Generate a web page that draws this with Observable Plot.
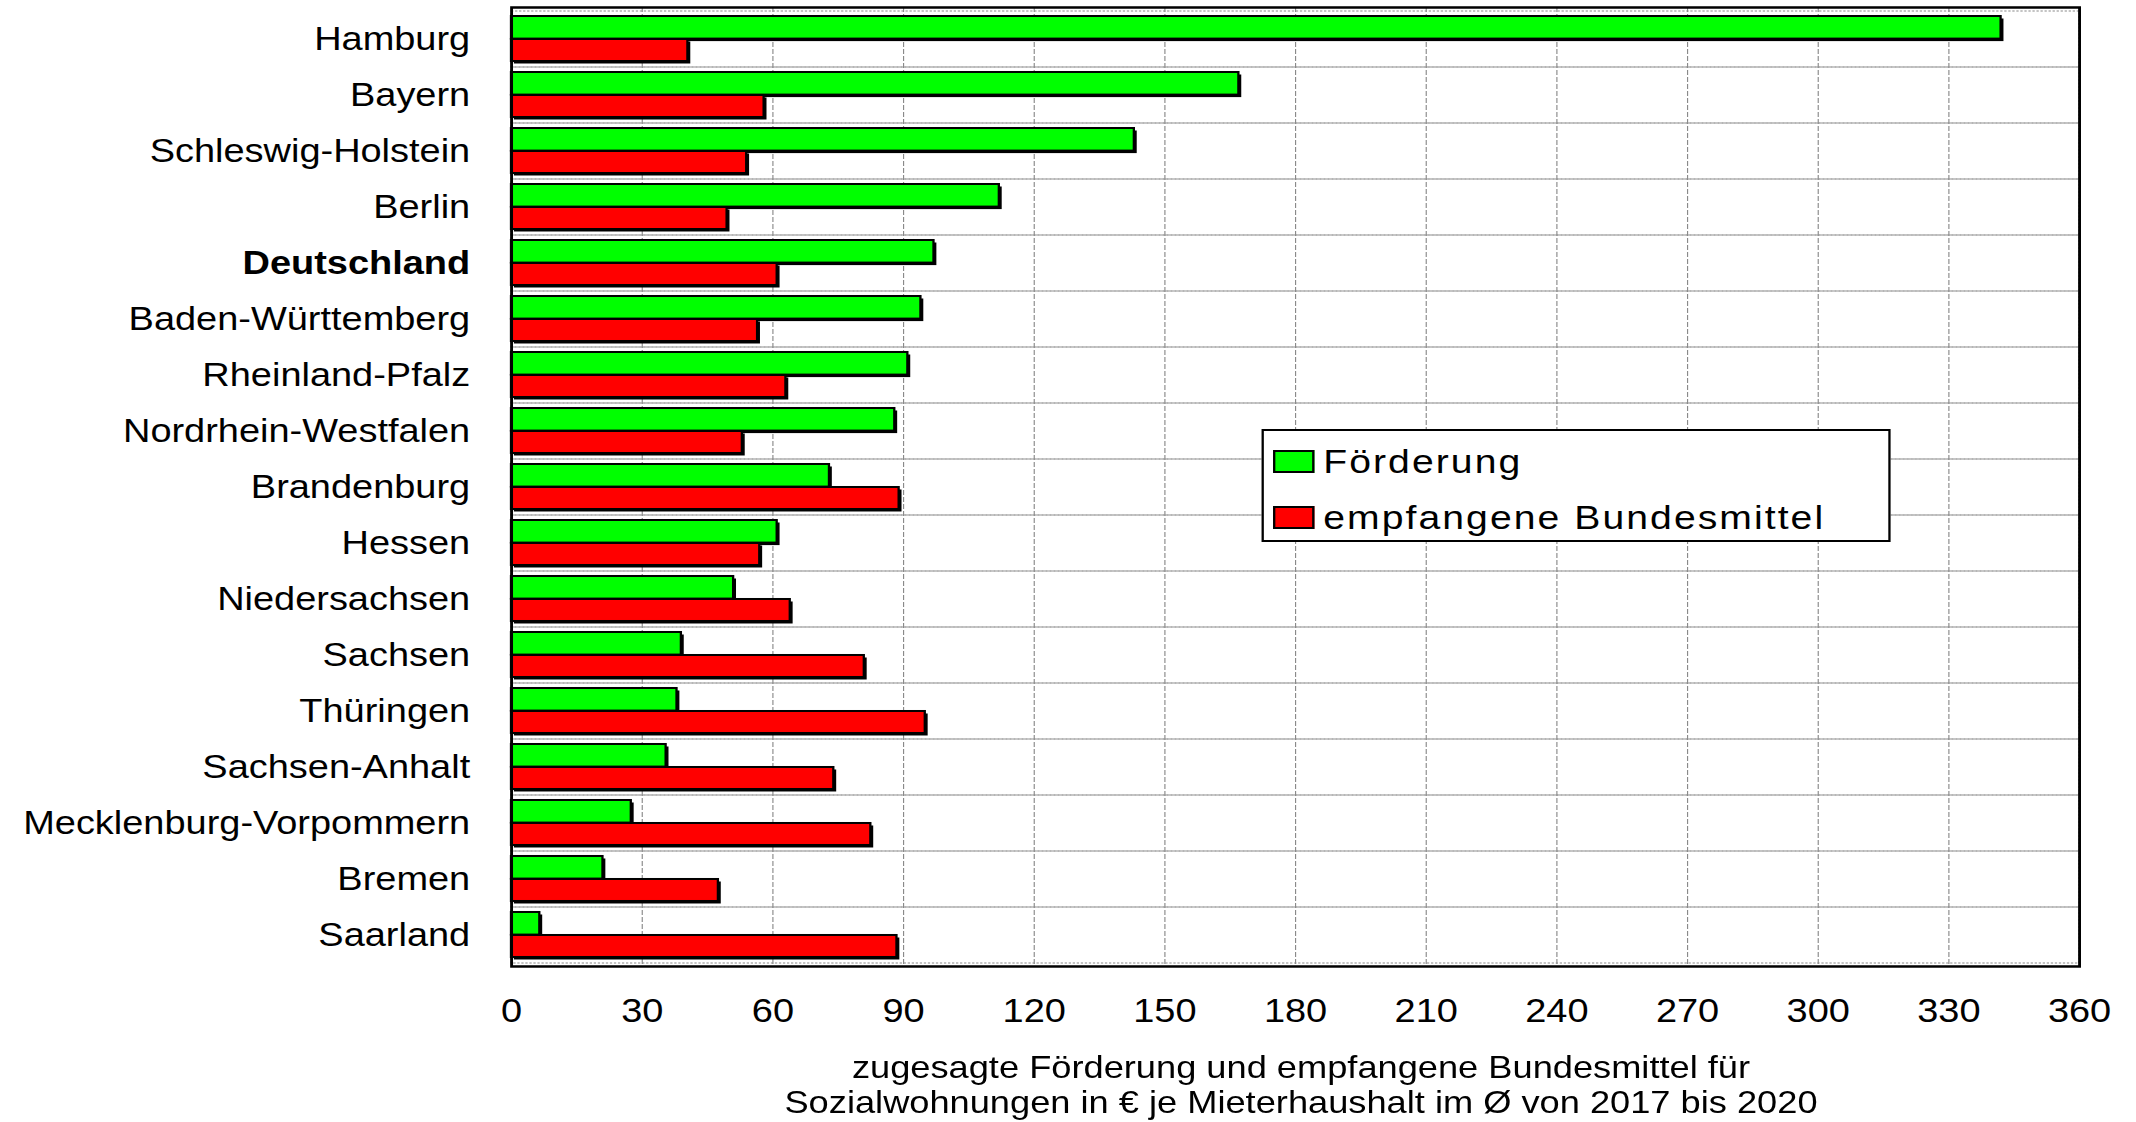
<!DOCTYPE html>
<html>
<head>
<meta charset="utf-8">
<script src="https://cdn.jsdelivr.net/npm/d3@7"></script>
<script src="https://cdn.jsdelivr.net/npm/@observablehq/plot@0.6"></script>
<style>
  html, body { margin: 0; padding: 0; background: #fff; overflow: hidden; }
  #wrap { position: relative; transform-origin: 0 0; font-family: 'Liberation Sans', Arial, sans-serif; color: #000; }
  #legend { position: absolute; box-sizing: border-box; border: 2px solid #000; background: #fff; }
  .lrow { position: absolute; display: flex; align-items: center; font-size: 34px; letter-spacing: 1.8px; white-space: nowrap; }
  .sw { box-sizing: border-box; border: 2px solid #000; margin-right: 0; }
  #caption { font-size: 31.5px; line-height: 35px; text-align: center; letter-spacing: 0; }
</style>
</head>
<body>
<div id="wrap"></div>
<script>
// ---- data ----
const categories = ["Hamburg", "Bayern", "Schleswig-Holstein", "Berlin", "Deutschland",
  "Baden-Württemberg", "Rheinland-Pfalz", "Nordrhein-Westfalen", "Brandenburg", "Hessen",
  "Niedersachsen", "Sachsen", "Thüringen", "Sachsen-Anhalt", "Mecklenburg-Vorpommern",
  "Bremen", "Saarland"];
const foerderung = [342, 167, 143, 112, 97, 94, 91, 88, 73, 61, 51, 39, 38, 35.5, 27.5, 21, 6.5];
const bundesmittel = [40.5, 58, 54, 49.5, 61, 56.5, 63, 53, 89, 57, 64, 81, 95, 74, 82.5, 47.5, 88.5];
const xTicks = [0, 30, 60, 90, 120, 150, 180, 210, 240, 270, 300, 330, 360];
const seriesNames = ["Förderung", "empfangene Bundesmittel"];
const seriesColors = ["#00ff00", "#ff0000"];
const captionLines = ["zugesagte Förderung und empfangene Bundesmittel für",
  "Sozialwohnungen in € je Mieterhaushalt im Ø von 2017 bis 2020"];

// ---- layout ----
const S = 1.15;               // horizontal stretch of the whole figure
const W = 2136 / S;
const rows = categories.map((c, i) => ({category: c, foerderung: foerderung[i], bundesmittel: bundesmittel[i]}));
const xMax = d3.max(xTicks);

const wrap = document.getElementById("wrap");
wrap.style.width = W + "px";
wrap.style.transform = `scaleX(${S})`;

const chart = Plot.plot({
  width: W,
  height: 1048,
  marginLeft: 511 / S,
  marginRight: 57 / S,
  marginTop: 7,
  marginBottom: 82,
  style: {fontFamily: "'Liberation Sans', Arial, sans-serif", fontSize: "33px", color: "#000", background: "#fff"},
  x: {domain: [0, xMax], ticks: xTicks, tickSize: 0, tickPadding: 32, label: null, tickFormat: d => String(d)},
  y: {domain: categories, padding: 0, tickSize: 0, tickPadding: 36, label: null},
  marks: [
    Plot.barX(categories, {y: d => d, x: () => xMax, fill: "none", stroke: "#8a8a8a", strokeWidth: 1, strokeDasharray: "2,1.5"}),
    Plot.ruleX(xTicks.slice(1, -1), {stroke: "#8a8a8a", strokeWidth: 1, strokeDasharray: "5,2"}),
    Plot.barX(rows, {y: "category", x: "foerderung", fill: "#000", insetTop: 5, insetBottom: 28.4, dx: 2.5, dy: 2.5}),
    Plot.barX(rows, {y: "category", x: "bundesmittel", fill: "#000", insetTop: 28, insetBottom: 6, dx: 2.5, dy: 2.5}),
    Plot.barX(rows, {y: "category", x: "foerderung", fill: seriesColors[0], stroke: "#000", strokeWidth: 2, insetTop: 5, insetBottom: 28.4}),
    Plot.barX(rows, {y: "category", x: "bundesmittel", fill: seriesColors[1], stroke: "#000", strokeWidth: 2, insetTop: 28, insetBottom: 6}),
    Plot.frame({stroke: "#000", strokeWidth: 2.5})
  ]
});
d3.select(chart).selectAll("text")
  .filter(function() { return this.textContent === "Deutschland"; })
  .attr("font-weight", "bold");
wrap.appendChild(chart);

// legend (inside the plot area, as in the reference)
const legend = document.createElement("div");
legend.id = "legend";
Object.assign(legend.style, {left: (1261 / S) + "px", top: "429px", width: ((1891 - 1261) / S) + "px", height: "113px"});
seriesNames.forEach((name, i) => {
  const row = document.createElement("div");
  row.className = "lrow";
  Object.assign(row.style, {left: ((1273 - 1263) / S) + "px", top: (i === 0 ? 8 : 64) + "px", height: "44px"});
  const sw = document.createElement("div");
  sw.className = "sw";
  Object.assign(sw.style, {width: ((1314 - 1273) / S) + "px", height: "23px", background: seriesColors[i], marginRight: (9 / S) + "px"});
  const t = document.createElement("span");
  t.textContent = name;
  row.appendChild(sw);
  row.appendChild(t);
  legend.appendChild(row);
});
wrap.appendChild(legend);

// axis title below the chart
const cap = document.createElement("div");
cap.id = "caption";
const pr = 57 / S;
const pl = 2 * (1301 / S) - W + pr;
cap.style.paddingLeft = pl + "px";
cap.style.paddingRight = pr + "px";
cap.style.paddingTop = "2px";
cap.innerHTML = captionLines.join("<br>");
wrap.appendChild(cap);
</script>
</body>
</html>
